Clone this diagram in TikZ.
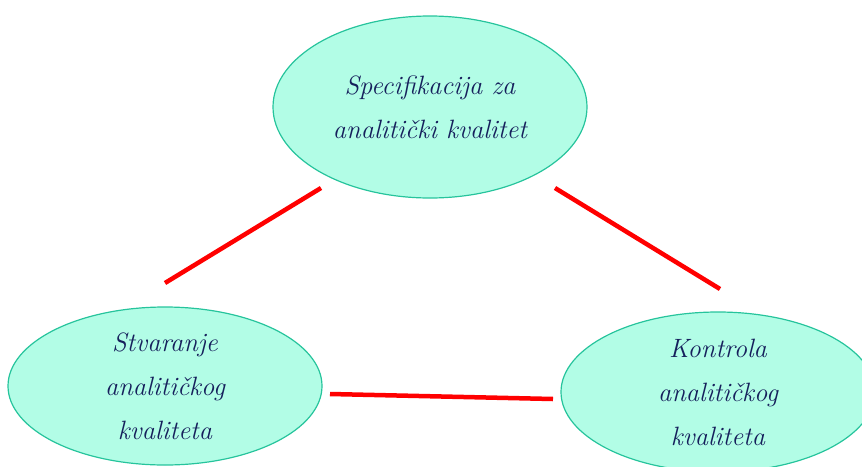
\documentclass[tikz,border=0pt]{standalone}
\usetikzlibrary{shapes.geometric}
\definecolor{ovalfill}{RGB}{178,253,230}
\definecolor{ovaldraw}{RGB}{38,196,156}
\definecolor{ovaltext}{RGB}{22,32,92}

\begin{document}
\begin{tikzpicture}[x=1pt,y=-1pt]
\tikzset{
oval/.style={ellipse,draw=ovaldraw,fill=ovalfill,line width=1.2pt,inner sep=0pt,
text=ovaltext,align=center,font=\fontsize{26.5}{44}\selectfont\itshape,
execute at begin node={\rule{0pt}{40pt}}},
redline/.style={draw=red,line width=4.5pt},
}
\clip (0,0) rectangle (862,466);

\node [oval, minimum width=314pt, minimum height=182pt] (spec) at (430,107) {Specifikacija za\\analitički kvalitet};
\node [oval, minimum width=314pt, minimum height=158pt] (stvar) at (165,386) {Stvaranje\\analitičkog\\kvaliteta};
\node [oval, minimum width=314pt, minimum height=160pt] (kontr) at (718,392) {Kontrola\\analitičkog\\kvaliteta};

\coordinate (specL) at (321,188);
\coordinate (specR) at (555,188);
\coordinate (stvarT) at (165,283);
\coordinate (stvarR) at (330,394);
\coordinate (kontrT) at (720,289);
\coordinate (kontrL) at (553,399);
\draw[redline] (specL) -- (stvarT);
\draw[redline] (specR) -- (kontrT);
\draw[redline] (stvarR) -- (kontrL);
\end{tikzpicture}
\end{document}
